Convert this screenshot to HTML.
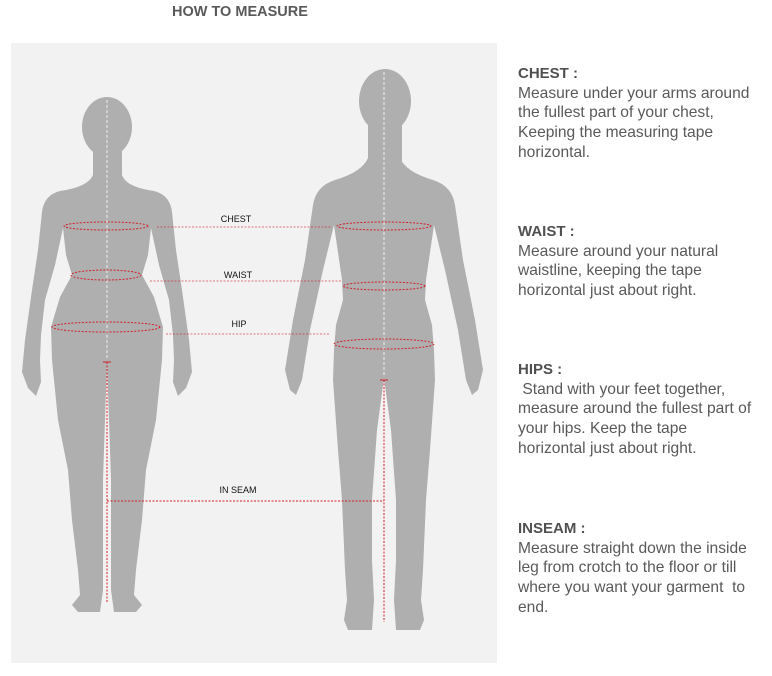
<!DOCTYPE html>
<html><head><meta charset="utf-8"><style>
body{margin:0;width:772px;height:676px;background:#fff;overflow:hidden;position:relative;font-family:"Liberation Sans",Arial,sans-serif;}
.t{position:absolute;left:172px;top:4px;font-size:14.5px;font-weight:bold;color:#595959;}
.s{position:absolute;left:518px;width:250px;font-size:15.6px;line-height:19.7px;color:#595959;}
.s b{color:#505050;font-size:15px}
</style></head><body>
<div class="t">HOW TO MEASURE</div>
<svg style="position:absolute;left:0;top:0" width="772" height="676">
<rect x="11" y="43" width="486" height="620" fill="#f2f2f2"/>
<g fill="#afafaf">
<ellipse cx="107" cy="127" rx="25" ry="30"/>
<rect x="93" y="145" width="29" height="42"/>
<path d="M93 175 Q88 187 60 191 Q44 195 42 212 L38 250 L32 290 L25 340 L22 372 L28 388 L36 396 L41 382 L40 360 L41 335 L45 300 L55 265 L63 228 L66 255 L72 275 L60 297 L51 327 L52 360 L58 420 L68 470 L72 520 L78 570 L80 595 L72 605 L78 612 L100 612 L103 590 L103 480 L105 420 L107 362 L109 420 L111 480 L111 590 L114 612 L136 612 L142 605 L134 595 L136 570 L142 520 L146 470 L156 420 L162 360 L163 327 L154 297 L142 275 L148 255 L151 228 L159 265 L169 300 L173 335 L174 360 L173 382 L178 396 L186 388 L192 372 L189 340 L182 290 L176 250 L172 212 Q170 195 154 191 Q126 187 122 175 Z"/>
<ellipse cx="385" cy="101" rx="26" ry="32"/>
<rect x="368" y="120" width="34" height="50"/>
<path d="M368 158 Q362 172 335 180 Q316 186 313 205 L305 260 L293 320 L285 370 L290 390 L296 395 L302 380 L310 330 L323 270 L334 225 L342 280 L343 300 L336 325 L334 350 L333 380 L338 450 L342 500 L345 570 L347 600 L344 620 L348 630 L372 630 L374 600 L372 560 L372 500 L377 430 L384 378 L391 430 L396 500 L396 560 L394 600 L396 630 L420 630 L424 620 L421 600 L423 570 L426 500 L430 450 L435 380 L434 350 L432 325 L425 300 L426 280 L434 225 L445 270 L458 330 L466 380 L472 395 L478 390 L483 370 L475 320 L463 260 L455 205 Q452 186 433 180 Q406 172 400 158 Z"/>
</g>
<g fill="none" stroke="#fff" stroke-width="1" stroke-dasharray="3,2" opacity="0.8">
<line x1="107" y1="100" x2="107" y2="358"/><line x1="384" y1="72" x2="384" y2="375"/>
</g>
<g fill="none" stroke="#d0202c" stroke-width="1" stroke-dasharray="2,1.5">
<ellipse cx="106" cy="226" rx="42" ry="4"/><ellipse cx="106" cy="275" rx="35" ry="5"/><ellipse cx="106" cy="327" rx="54" ry="5"/>
<ellipse cx="384" cy="226" rx="47" ry="4"/><ellipse cx="384" cy="286" rx="41" ry="4"/><ellipse cx="384" cy="344" rx="50" ry="5"/>
<line x1="157" y1="227" x2="331" y2="227" opacity=".6"/><line x1="150" y1="281" x2="342" y2="281" opacity=".6"/><line x1="166" y1="334" x2="330" y2="334" opacity=".6"/>
<line x1="107" y1="501" x2="384" y2="501"/>
<line x1="107" y1="362" x2="107" y2="603"/><line x1="384" y1="380" x2="384" y2="622"/>
</g>
<g stroke="#d0202c" stroke-width="1"><line x1="103" y1="362" x2="111" y2="362"/><line x1="380" y1="380" x2="388" y2="380"/></g>
<g font-family="Liberation Sans,Arial,sans-serif" font-size="9" fill="#111" text-anchor="middle">
<text x="236" y="222">CHEST</text><text x="238" y="278">WAIST</text><text x="239" y="327">HIP</text><text x="238" y="493">IN SEAM</text>
</g>
</svg>
<div class="s" style="top:64px"><b>CHEST :</b><br>Measure under your arms around<br>the fullest part of your chest,<br>Keeping the measuring tape<br>horizontal.</div>
<div class="s" style="top:222px"><b>WAIST :</b><br>Measure around your natural<br>waistline, keeping the tape<br>horizontal just about right.</div>
<div class="s" style="top:360px"><b>HIPS :</b><br>&nbsp;Stand with your feet together,<br>measure around the fullest part of<br>your hips. Keep the tape<br>horizontal just about right.</div>
<div class="s" style="top:519px"><b>INSEAM :</b><br>Measure straight down the inside<br>leg from crotch to the floor or till<br>where you want your garment &nbsp;to<br>end.</div>
</body></html>
